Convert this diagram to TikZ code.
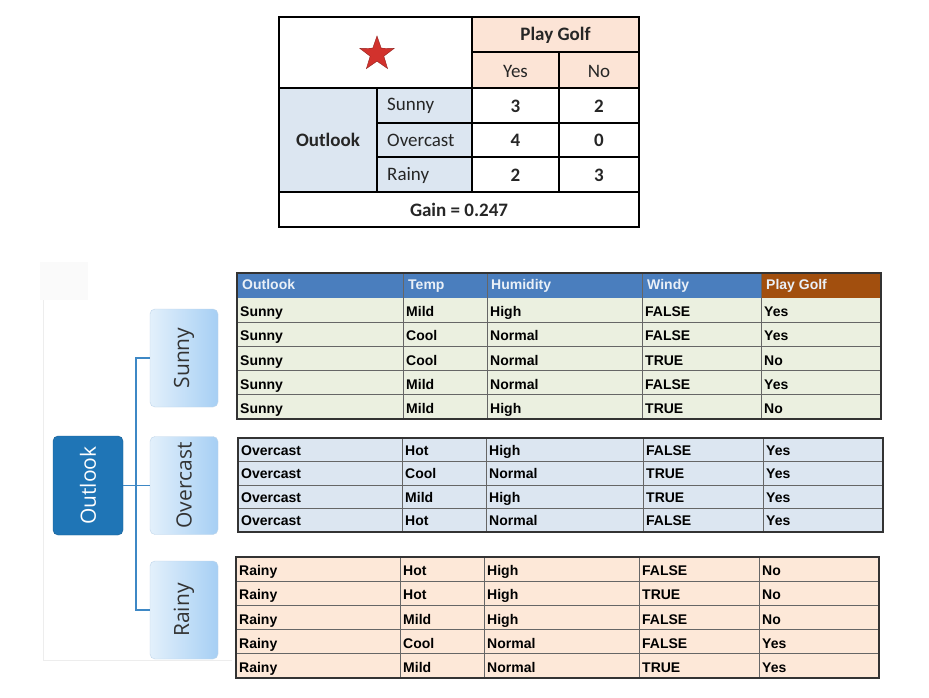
\documentclass[tikz,border=0pt]{standalone}
\usepackage{fontspec}
\setmainfont{Carlito}
\newfontfamily\arialfont{Liberation Sans}
\newfontfamily\treefont{Open Sans}
\usetikzlibrary{shapes.geometric}

\definecolor{peach}{HTML}{FCE4D6}
\definecolor{paleblue}{HTML}{DCE6F1}
\definecolor{starred}{HTML}{D2322D}
\definecolor{hdrblue}{HTML}{4A7EBE}
\definecolor{golfbrown}{HTML}{A24F0E}
\definecolor{sunnyrow}{HTML}{EBF0E0}
\definecolor{rainyrow}{HTML}{FDE8D8}
\definecolor{rootblue}{HTML}{1F75B6}
\definecolor{leaflight}{HTML}{E3F0FB}
\definecolor{leafdark}{HTML}{A6CFF4}
\definecolor{linkblue}{HTML}{3E88C5}

\tikzset{
  topcell/.style={font=\fontsize{19}{21}\selectfont, text=black!85, inner sep=0pt},
  rowcell/.style={anchor=west, font=\arialfont\bfseries\fontsize{14}{15}\selectfont,
                  inner sep=0pt, text height=10pt, text depth=3pt},
  hdrcell/.style={rowcell, text=paleblue!60!white},
  gridline/.style={draw=black!60, line width=1pt},
  frameline/.style={draw=black!80, line width=1.7pt},
  rootbox/.style={rounded corners=5pt, fill=rootblue, draw=rootblue!80!black, rotate=90,
                  minimum width=99pt, minimum height=70pt, text=white,
                  font=\treefont\fontsize{21}{23}\selectfont},
  leafbox/.style={rounded corners=5pt, left color=leaflight, right color=leafdark,
                  draw=leafdark!90!black!60, rotate=90, minimum width=98pt, minimum height=68pt,
                  text=black!80, font=\treefont\fontsize{21}{23}\selectfont},
  branch/.style={draw=linkblue, line width=1.5pt}
}

\begin{document}
\begin{tikzpicture}[x=1pt,y=-1pt]
\useasboundingbox[fill=white] (0,0) rectangle (929,698);

% gain table
\fill[peach] (472,17) rectangle (639,88);
\fill[paleblue] (279,88) rectangle (472,192);
\draw[line width=1.3pt] (279,17) rectangle (639,227);
\draw[line width=1.3pt] (472,17) -- (472,192);
\draw[line width=1.3pt] (377,88) -- (377,192);
\draw[line width=1.3pt] (559,52) -- (559,192);
\draw[line width=1.3pt] (472,52) -- (639,52);
\draw[line width=1.3pt] (279,88) -- (639,88);
\draw[line width=1.3pt] (377,123) -- (639,123);
\draw[line width=1.3pt] (377,157) -- (639,157);
\draw[line width=1.3pt] (279,192) -- (639,192);

\node[star, star points=5, star point ratio=2.5, fill=starred, draw=starred!70!black,
      minimum size=36pt, inner sep=0pt] (star) at (377,54) {};
\begin{scope}[every node/.style={topcell}]
    \node[font=\bfseries\fontsize{19}{21}\selectfont] (golf) at (555.5,35) {Play Golf};
    \node (yes) at (515.5,71) {Yes};
    \node (no) at (599,71) {No};
    \node[font=\bfseries\fontsize{19}{21}\selectfont] (outlk) at (328,140) {Outlook};
    \node[anchor=west] (sun) at (387,106) {Sunny};
    \node[anchor=west] (ovc) at (387,140) {Overcast};
    \node[anchor=west] (rny) at (387,175) {Rainy};
\end{scope}
\begin{scope}[every node/.style={topcell, font=\bfseries\fontsize{19}{21}\selectfont}]
    \node (sunyes) at (515.5,106) {3};
    \node (sunno) at (599,106) {2};
    \node (ovcyes) at (515.5,140) {4};
    \node (ovcno) at (599,140) {0};
    \node (rnyyes) at (515.5,175) {2};
    \node (rnyno) at (599,175) {3};
    \node (gain) at (459,210) {Gain = 0.247};
\end{scope}

% tree
\draw[black!7, line width=1pt] (43,300) -- (43,660) -- (232,660);
\fill[black!2] (40,262) rectangle (88,300);
\node[rootbox] (outlook) at (88,485.5) {Outlook};
\node[leafbox] (sunny) at (184,358) {Sunny};
\node[leafbox] (overcast) at (184,485.5) {Overcast};
\node[leafbox] (rainy) at (184,610) {Rainy};
\coordinate (trunk) at (136,485.5);
\path[branch] (outlook) -- (trunk);
\path[branch] (trunk) |- (sunny);
\path[branch] (trunk) -- (overcast);
\path[branch] (trunk) |- (rainy);

% sunny table
\fill[sunnyrow] (237,298) rectangle (881,419);
\fill[hdrblue] (237,273) rectangle (761,298);
\fill[golfbrown] (761,273) rectangle (881,298);
\foreach \r in {1,...,4} \draw[gridline] (237,{298+24.2*\r}) -- (881,{298+24.2*\r});
\foreach \c in {403,487,642,761} \draw[gridline] (\c,273) -- (\c,419);
\draw[frameline] (237,273) rectangle (881,419);
\node[hdrcell] (h1) at (242,286) {Outlook};
\node[hdrcell] (h2) at (408,286) {Temp};
\node[hdrcell] (h3) at (491,286) {Humidity};
\node[hdrcell] (h4) at (647,286) {Windy};
\node[hdrcell] (h5) at (766,286) {Play Golf};
\foreach \o/\t/\h/\w/\p [count=\i] in {Sunny/Mild/High/FALSE/Yes, Sunny/Cool/Normal/FALSE/Yes,
    Sunny/Cool/Normal/TRUE/No, Sunny/Mild/Normal/FALSE/Yes, Sunny/Mild/High/TRUE/No} {
    \node[rowcell] (s\i-1) at (240,{298+24.2*\i-9}) {\o};
    \node[rowcell] (s\i-2) at (406,{298+24.2*\i-9}) {\t};
    \node[rowcell] (s\i-3) at (490,{298+24.2*\i-9}) {\h};
    \node[rowcell] (s\i-4) at (645,{298+24.2*\i-9}) {\w};
    \node[rowcell] (s\i-5) at (764,{298+24.2*\i-9}) {\p};
}

% overcast table
\fill[paleblue] (238,438) rectangle (883,532);
\foreach \r in {1,...,3} \draw[gridline] (238,{438+23.5*\r}) -- (883,{438+23.5*\r});
\foreach \c in {402,486,643,763} \draw[gridline] (\c,438) -- (\c,532);
\draw[frameline] (238,438) rectangle (883,532);
\foreach \o/\t/\h/\w/\p [count=\i] in {Overcast/Hot/High/FALSE/Yes, Overcast/Cool/Normal/TRUE/Yes,
    Overcast/Mild/High/TRUE/Yes, Overcast/Hot/Normal/FALSE/Yes} {
    \node[rowcell] (o\i-1) at (241,{438+23.5*\i-10}) {\o};
    \node[rowcell] (o\i-2) at (405,{438+23.5*\i-10}) {\t};
    \node[rowcell] (o\i-3) at (489,{438+23.5*\i-10}) {\h};
    \node[rowcell] (o\i-4) at (646,{438+23.5*\i-10}) {\w};
    \node[rowcell] (o\i-5) at (766,{438+23.5*\i-10}) {\p};
}

% rainy table
\fill[rainyrow] (236,557) rectangle (879,678);
\foreach \r in {1,...,4} \draw[gridline] (236,{557+24.2*\r}) -- (879,{557+24.2*\r});
\foreach \c in {400,484,639,759} \draw[gridline] (\c,557) -- (\c,678);
\draw[frameline] (236,557) rectangle (879,678);
\foreach \o/\t/\h/\w/\p [count=\i] in {Rainy/Hot/High/FALSE/No, Rainy/Hot/High/TRUE/No,
    Rainy/Mild/High/FALSE/No, Rainy/Cool/Normal/FALSE/Yes, Rainy/Mild/Normal/TRUE/Yes} {
    \node[rowcell] (r\i-1) at (239,{557+24.2*\i-9}) {\o};
    \node[rowcell] (r\i-2) at (403,{557+24.2*\i-9}) {\t};
    \node[rowcell] (r\i-3) at (487,{557+24.2*\i-9}) {\h};
    \node[rowcell] (r\i-4) at (642,{557+24.2*\i-9}) {\w};
    \node[rowcell] (r\i-5) at (762,{557+24.2*\i-9}) {\p};
}
\end{tikzpicture}
\end{document}
